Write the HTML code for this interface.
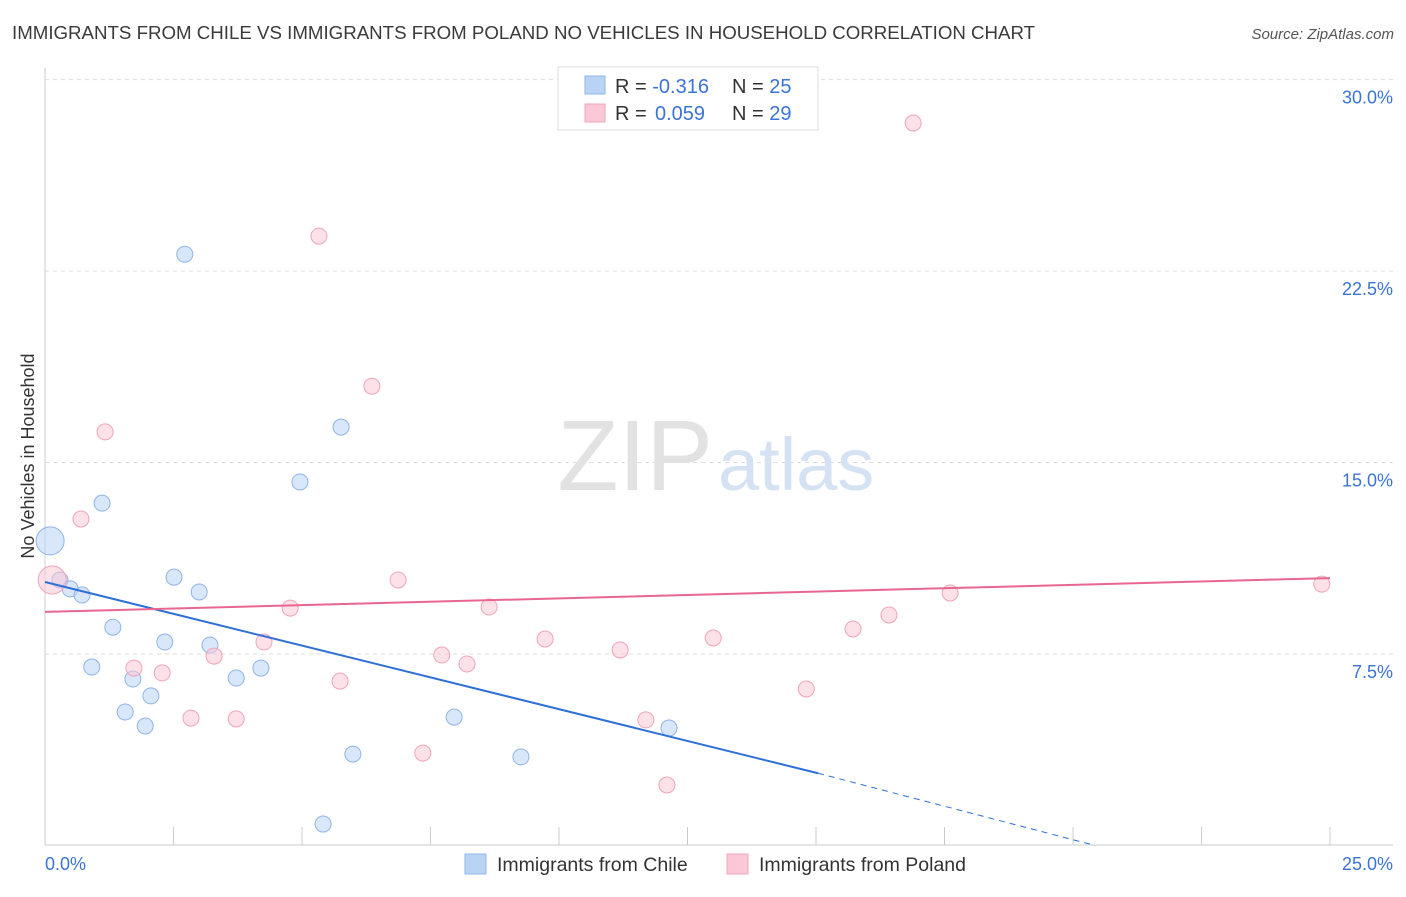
<!DOCTYPE html>
<html><head><meta charset="utf-8"><style>
body{margin:0;background:#fff;font-family:"Liberation Sans",sans-serif;}
svg text{font-family:"Liberation Sans",sans-serif;}
</style></head><body>
<svg width="1406" height="892" viewBox="0 0 1406 892">
<text x="12" y="39" font-size="18.7" fill="#3a3a3a">IMMIGRANTS FROM CHILE VS IMMIGRANTS FROM POLAND NO VEHICLES IN HOUSEHOLD CORRELATION CHART</text>
<text x="1394" y="39" font-size="15" fill="#555" text-anchor="end" font-style="italic">Source: ZipAtlas.com</text>
<g id="grid"></g>
<g id="axes"></g>
<text x="713" y="490" font-size="100" fill="#e2e2e2" text-anchor="end" font-family="Liberation Serif">ZIP</text>
<text x="718" y="490" font-size="74" fill="#d4e2f4">atlas</text>
<text transform="translate(34,456) rotate(-90)" font-size="18" fill="#333" text-anchor="middle">No Vehicles in Household</text>
<g id="marks"></g>
<g>
<rect x="558" y="67" width="260" height="63" fill="#fff" stroke="#ddd"/>
<rect x="585" y="76" width="20" height="18" fill="#b9d3f5" stroke="#8fb4e8"/>
<rect x="585" y="104" width="20" height="18" fill="#fac8d6" stroke="#f0a4bb"/>
<text x="615" y="93" font-size="20" fill="#333">R = <tspan fill="#3b74d4">-0.316</tspan><tspan x="732">N = </tspan><tspan fill="#3b74d4">25</tspan></text>
<text x="615" y="120" font-size="20" fill="#333">R = <tspan fill="#3b74d4" x="655">0.059</tspan><tspan x="732">N = </tspan><tspan fill="#3b74d4">29</tspan></text>
</g>
<g>
<rect x="465" y="854" width="21" height="20" fill="#b9d3f5" stroke="#8fb4e8"/>
<text x="497" y="871" font-size="19.5" fill="#333">Immigrants from Chile</text>
<rect x="727" y="854" width="21" height="20" fill="#fac8d6" stroke="#f0a4bb"/>
<text x="759" y="871" font-size="19.5" fill="#333">Immigrants from Poland</text>
</g>
</svg>
<script>
const chileX=[0.1,0.29,0.49,0.72,1.11,0.91,1.32,1.71,1.56,1.95,2.06,2.33,2.51,2.72,3.0,3.21,3.72,4.2,4.96,5.76,5.99,5.41,7.96,9.26,12.14];
const chileY=[11.93,10.4,10.05,9.81,13.41,6.99,8.55,6.52,5.23,4.68,5.86,7.97,10.51,23.16,9.93,7.85,6.56,6.95,14.24,16.39,3.58,0.84,5.03,3.47,4.6];
const polandX=[0.14,0.7,1.17,1.73,2.28,2.84,3.29,3.72,4.26,4.77,5.33,5.74,6.36,6.87,7.35,7.72,8.21,8.64,9.73,11.19,11.69,12.1,13.0,14.81,15.72,16.42,16.89,17.61,24.84];
const polandY=[10.4,12.79,16.2,6.95,6.76,4.99,7.42,4.96,7.97,9.3,23.87,6.44,17.99,10.4,3.62,7.46,7.11,9.34,8.09,7.66,4.92,2.37,8.13,6.13,8.48,9.03,28.3,9.89,10.24];
const yTicks=[7.5,15.0,22.5,30.0];
const yTickLabels=["7.5%","15.0%","22.5%","30.0%"];
const chileTrend=[10.32,-0.498];
const polandTrend=[9.15,0.053];
const NS="http://www.w3.org/2000/svg";
const sx=v=>45+v*51.4, sy=v=>845.5-v*25.53;
function mk(t,a,p){const e=document.createElementNS(NS,t);for(const k in a)e.setAttribute(k,a[k]);p.appendChild(e);return e;}
const grid=document.getElementById('grid'),axes=document.getElementById('axes'),marks=document.getElementById('marks');
yTicks.forEach((v,i)=>{
 const l=mk('line',{x1:45,x2:1393,y1:sy(v),y2:sy(v),stroke:'#ddd','stroke-dasharray':'4,4'},grid);
 
 
 const t=mk('text',{x:1393,y:sy(v)+24,'font-size':18,fill:'#3b74d4','text-anchor':'end'},axes);
 t.textContent=yTickLabels[i];
 
 
});
mk('line',{x1:45,x2:45,y1:68,y2:845,stroke:'#ccc'},axes);
mk('line',{x1:45,x2:1393,y1:845,y2:845,stroke:'#ccc'},axes);
for(let i=0;i<=10;i++){const l=mk('line',{x1:sx(i*2.5),x2:sx(i*2.5),y1:827,y2:845,stroke:'#ccc'},axes);
 
 }
const x0=mk('text',{x:45,y:870,'font-size':18,fill:'#3b74d4'},axes);x0.textContent='0.0%';


const x1=mk('text',{x:1393,y:870,'font-size':18,fill:'#3b74d4','text-anchor':'end'},axes);x1.textContent='25.0%';


function pts(X,Y,fill,stroke,name){X.forEach((x,i)=>{const r=i===0?14:8;
 const c=mk('circle',{cx:sx(x),cy:sy(Y[i]),r:r,fill:fill,stroke:stroke,'stroke-width':1,'fill-opacity':0.55},marks);
 
 });}
pts(chileX,chileY,'#b9d3f5','#8fb4e8','chile-point');
pts(polandX,polandY,'#fac8d6','#f0a4bb','poland-point');
const ct=x=>chileTrend[0]+chileTrend[1]*x;
const cl=mk('line',{x1:sx(0),y1:sy(ct(0)),x2:sx(15.04),y2:sy(ct(15.04)),stroke:'#2f6fd6','stroke-width':2},marks);


const xe=20.43;
const cd=mk('line',{x1:sx(15.04),y1:sy(ct(15.04)),x2:sx(xe),y2:sy(0),stroke:'#2f6fd6','stroke-width':1,'stroke-dasharray':'6,5'},marks);


const pt=x=>polandTrend[0]+polandTrend[1]*x;
const pl=mk('line',{x1:sx(0),y1:sy(pt(0)),x2:sx(25),y2:sy(pt(25)),stroke:'#e8668f','stroke-width':2},marks);


</script>
</body></html>
